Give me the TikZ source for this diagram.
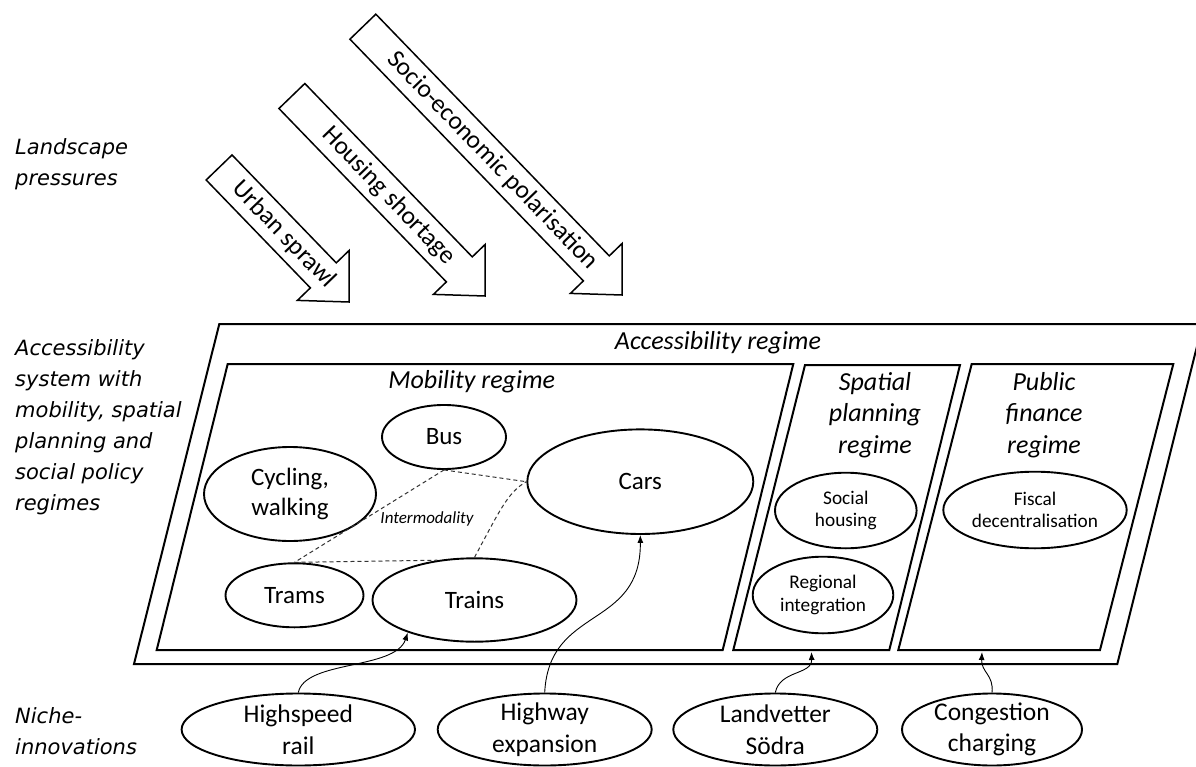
\documentclass[tikz,border=0pt]{standalone}
\usepackage{fontspec}
\setmainfont{Carlito}
\newfontfamily\lblfont{DejaVu Sans}
\usetikzlibrary{shapes.geometric,arrows.meta}
\begin{document}
\begin{tikzpicture}[x=1pt,y=-1pt,
  regbox/.style={draw, line width=2pt, line join=miter},
  ell/.style={ellipse, draw, line width=1.9pt, inner sep=-4pt, align=center, font=\fontsize{25}{30.5}\selectfont},
  smallell/.style={ell, font=\fontsize{19.3}{22.7}\selectfont},
  nicheell/.style={ell, font=\fontsize{25.5}{31.7}\selectfont},
  sidelbl/.style={anchor=base west, inner sep=0pt, font=\lblfont\itshape\fontsize{21}{31}\selectfont},
  regtitle/.style={anchor=base, inner sep=0pt, font=\itshape\fontsize{26}{31.7}\selectfont},
  conn/.style={line width=0.9pt, -{Latex[length=8pt,width=6pt]}},
  dashconn/.style={dash pattern=on 4pt off 3pt, line width=1pt, draw=black!80},
  blockarrow/.style={draw, line width=1.5pt, fill=white, line join=miter},
  arrtext/.style={rotate=-46, inner sep=0pt, font=\fontsize{25.5}{30}\selectfont}
]
\useasboundingbox (0,0) rectangle (1196,767);
\fill[white] (0,0) rectangle (1196,767);

% side labels
\node[sidelbl] (lland) at (15,155) {\begin{tabular}[t]{@{}l@{}}Landscape\\pressures\end{tabular}};
\node[sidelbl] (lacc) at (15,355) {\begin{tabular}[t]{@{}l@{}}Accessibility\\system with\\mobility, spatial\\planning and\\social policy\\regimes\end{tabular}};
\node[sidelbl] (lniche) at (15,723.3) {\begin{tabular}[t]{@{}l@{}}Niche-\\innovations\end{tabular}};

% landscape block arrows
\begin{scope}[shift={(349,302)}, rotate=-46]
  \draw[blockarrow] (0,0) -- (-37,-36) -- (-37,-18) -- (-187,-18) -- (-187,18) -- (-37,18) -- (-37,36) -- cycle;
  \node[arrtext] (urban) at (-93.5,0) {Urban sprawl};
\end{scope}
\begin{scope}[shift={(485,296)}, rotate=-46]
  \draw[blockarrow] (0,0) -- (-37,-36) -- (-37,-18) -- (-278,-18) -- (-278,18) -- (-37,18) -- (-37,36) -- cycle;
  \node[arrtext] (housing) at (-139,0) {Housing shortage};
\end{scope}
\begin{scope}[shift={(622,295)}, rotate=-46]
  \draw[blockarrow] (0,0) -- (-37,-36) -- (-37,-18) -- (-373,-18) -- (-373,18) -- (-37,18) -- (-37,36) -- cycle;
  \node[arrtext] (socio) at (-186.5,0) {Socio-economic polarisation};
\end{scope}

% regime boxes
\draw[regbox] (219.3,324) -- (1202.6,324) -- (1117.3,664) -- (134,664) -- cycle;
\draw[regbox] (227.7,364) -- (793.3,364) -- (722.7,650) -- (156.7,650) -- cycle;
\draw[regbox] (805,365) -- (960,365) -- (889.3,650) -- (733.3,650) -- cycle;
\draw[regbox] (971.7,364) -- (1173.3,364) -- (1100,650) -- (898.3,650) -- cycle;

\node[regtitle] (tacc) at (718,349.3) {Accessibility regime};
\node[regtitle] (tmob) at (471.7,388.3) {Mobility regime};
\node[regtitle] (tsp) at (875,390) {\begin{tabular}[t]{@{}c@{}}Spatial\\planning\\regime\end{tabular}};
\node[regtitle] (tpf) at (1044,390) {\begin{tabular}[t]{@{}c@{}}Public\\finance\\regime\end{tabular}};

% mobility ellipses
\node[ell, minimum width=124pt, minimum height=64pt] (bus) at (444,437) {Bus};
\node[ell, minimum width=172pt, minimum height=94pt] (cycl) at (290,494) {Cycling,\\walking};
\node[ell, minimum width=138pt, minimum height=64pt] (trams) at (294.5,595.3) {Trams};
\node[ell, minimum width=204pt, minimum height=83.4pt] (trains) at (474.5,600) {Trains};
\node[ell, minimum width=226pt, minimum height=104.6pt] (cars) at (640.3,481.7) {Cars};

% spatial / finance ellipses
\node[smallell, minimum width=141.6pt, minimum height=75.6pt] (soc) at (845.8,510.5) {Social\\housing};
\node[smallell, minimum width=140.6pt, minimum height=76.6pt] (reg) at (823,595) {Regional\\integration};
\node[smallell, minimum width=183.4pt, minimum height=76.6pt] (fisc) at (1035,510) {Fiscal\\decentralisation};

% intermodality
\draw[dashconn] (bus.south) -- (trams.north);
\draw[dashconn] (bus.south) -- (cars.west);
\draw[dashconn] (trams.north) -- (trains.133);
\draw[dashconn] (trains.north) .. controls (500,510) and (508,492) .. (cars.west);
\node[font=\itshape\fontsize{17}{20}\selectfont, inner sep=0pt] (inter) at (427,519) {Intermodality};

% niche ellipses
\node[nicheell, minimum width=233.4pt, minimum height=72pt] (hs) at (298.3,729.5) {Highspeed\\rail};
\node[nicheell, minimum width=214pt, minimum height=72pt] (hw) at (544.7,729.5) {Highway\\expansion};
\node[nicheell, minimum width=204pt, minimum height=72pt] (lv) at (775.3,729.5) {Landvetter\\Södra};
\node[nicheell, minimum width=180pt, minimum height=72pt] (cc) at (992,729.5) {Congestion\\charging};

\coordinate (spB) at (811.5,652);
\coordinate (pfB) at (982,652);

\draw[conn] (hs.north) .. controls (305,660) and (395,670) .. (trains.206);
\draw[conn] (hw.north) .. controls (549,605) and (641,630) .. (cars.south);
\draw[conn] (lv.north) .. controls (780,670) and (812,675) .. (spB);
\draw[conn] (cc.north) .. controls (994,675) and (981,672) .. (pfB);
\end{tikzpicture}
\end{document}
